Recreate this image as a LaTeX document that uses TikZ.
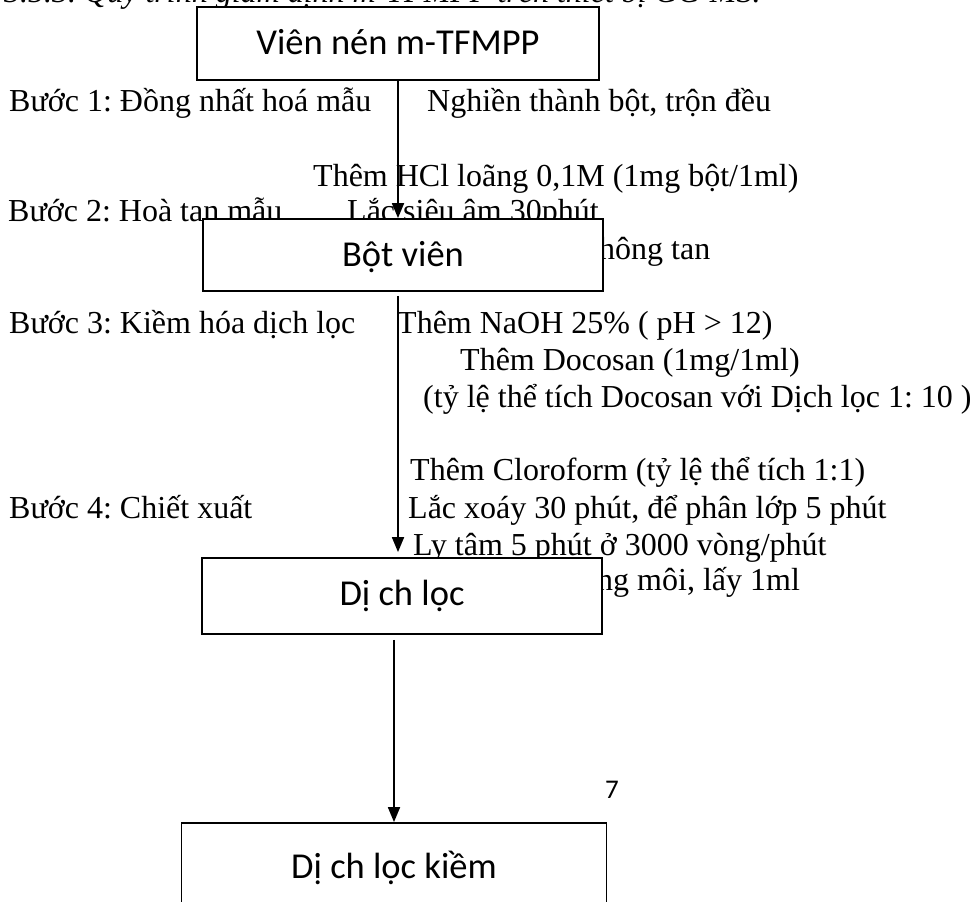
\documentclass[tikz,border=0pt]{standalone}
\usepackage{fontspec}
\setmainfont{Liberation Serif}
\newfontfamily\boxfont{Carlito}
\usetikzlibrary{arrows.meta}
\frenchspacing
\begin{document}
\begin{tikzpicture}[x=1pt,y=-1pt,
  lbl/.style={anchor=base west,inner sep=0pt,font=\fontsize{32}{38}\selectfont},
  boxnode/.style={draw=black,line width=1.8pt,fill=white,inner sep=0pt},
  boxtext/.style={anchor=base,inner sep=0pt,font=\boxfont\fontsize{36.5}{44}\selectfont},
  flow/.style={draw=black,line width=1.8pt,-{Triangle[width=12pt,length=15pt]}}]
\useasboundingbox (0,0) rectangle (973,901);
\clip (0,0) rectangle (973,901);
% title (cut off at the top)
\node[lbl,font=\itshape\fontsize{32}{38}\selectfont] (title) at (4,3) {3.5.3. Quy trình giám định m-TFMPP trên thiết bị GC-MS.};
% step labels and annotations
\node[lbl] (s1) at (9,112) {Bước 1: Đồng nhất hoá mẫu};
\node[lbl] (a1) at (427,112) {Nghiền thành bột, trộn đều};
\node[lbl] (a2) at (313,187) {Thêm HCl loãng 0,1M (1mg bột/1ml)};
\node[lbl] (s2) at (8,222) {Bước 2: Hoà tan mẫu};
\node[lbl] (a3) at (347,222) {Lắc siêu âm 30phút};
\node[lbl] (a4) at (599,259) {hông tan};
\node[lbl] (s3) at (9,333) {Bước 3: Kiềm hóa dịch lọc};
\node[lbl] (a5) at (397,333) {Thêm NaOH 25\% ( pH > 12)};
\node[lbl] (a6) at (460,370) {Thêm Docosan (1mg/1ml)};
\node[lbl] (a7) at (423,407) {(tỷ lệ thể tích Docosan với Dịch lọc 1: 10 )};
\node[lbl] (a8) at (410,480) {Thêm Cloroform (tỷ lệ thể tích 1:1)};
\node[lbl] (s4) at (9,518) {Bước 4: Chiết xuất};
\node[lbl] (a9) at (408,518) {Lắc xoáy 30 phút, để phân lớp 5 phút};
\node[lbl] (a10) at (413,555) {Ly tâm 5 phút ở 3000 vòng/phút};
\node[lbl] (a11) at (597,590) {ng môi, lấy 1ml};
% boxes
\node[boxnode,minimum width=402pt,minimum height=73pt] (b1) at (398,43.5) {};
\node[boxtext] (t1) at (398,55) {Viên nén m-TFMPP};
\node[boxnode,minimum width=400pt,minimum height=72pt] (b2) at (403,255) {};
\node[boxtext] (t2) at (403,266) {Bột viên};
\node[boxnode,minimum width=400pt,minimum height=76pt] (b3) at (402,596) {};
\node[boxtext] (t3) at (402,605) {Dị ch lọc};
\node[boxnode,minimum width=425pt,minimum height=89pt] (b4) at (394,867.5) {};
\node[boxtext] (t4) at (394,878) {Dị ch lọc kiềm};
\node[anchor=base west,inner sep=0pt,font=\boxfont\fontsize{27}{32}\selectfont] (pg) at (605,798) {7};
% connectors
\draw[flow] (b1.south) -- (b1.south |- b2.north);
\draw[flow,shorten <=4pt,shorten >=5pt] (b2.south -| b1.south) -- (b3.north -| b1.south);
\draw[flow,shorten <=5pt] (b4.north |- b3.south) -- (b4.north);
\end{tikzpicture}
\end{document}
